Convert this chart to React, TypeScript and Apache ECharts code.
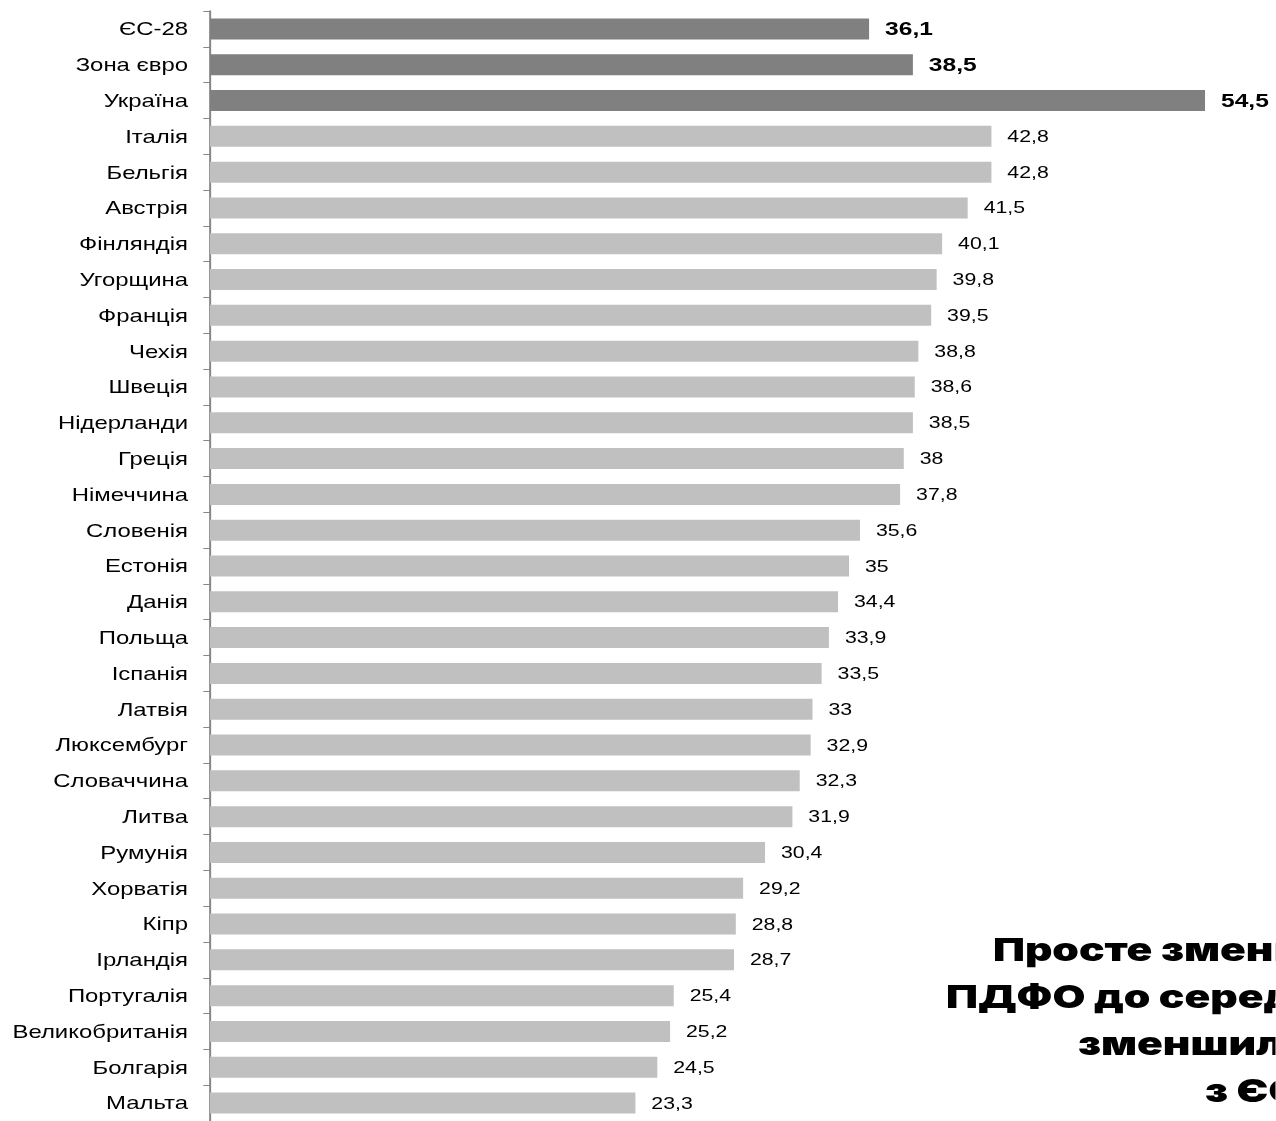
import React, { useEffect, useRef } from "react";
import * as echarts from "echarts";

const categories = [
  "ЄС-28", "Зона євро", "Україна", "Італія", "Бельгія", "Австрія", "Фінляндія",
  "Угорщина", "Франція", "Чехія", "Швеція", "Нідерланди", "Греція", "Німеччина",
  "Словенія", "Естонія", "Данія", "Польща", "Іспанія", "Латвія", "Люксембург",
  "Словаччина", "Литва", "Румунія", "Хорватія", "Кіпр", "Ірландія", "Португалія",
  "Великобританія", "Болгарія", "Мальта",
];
const values = [
  36.1, 38.5, 54.5, 42.8, 42.8, 41.5, 40.1, 39.8, 39.5, 38.8, 38.6, 38.5, 38,
  37.8, 35.6, 35, 34.4, 33.9, 33.5, 33, 32.9, 32.3, 31.9, 30.4, 29.2, 28.8,
  28.7, 25.4, 25.2, 24.5, 23.3,
];
const highlighted = ["ЄС-28", "Зона євро", "Україна"];
const noteLines = ["Просте зменшення", "ПДФО до середнього", "зменшило б розрив", "з ЄС"];

// The reference is stretched horizontally; draw narrow and stretch the whole chart.
const STRETCH = 1.33;
const W = 1276 / STRETCH;
const noteX = [993, 946, 1078, 1205].map((x) => x / STRETCH);

export default function App() {
  const ref = useRef<HTMLDivElement>(null);
  useEffect(() => {
    if (!ref.current) return;
    const chart = echarts.init(ref.current, null, { renderer: "svg" });
    const font = "Arial, 'Liberation Sans', sans-serif";
    const data = values.map((v, i) => {
      const hi = highlighted.includes(categories[i]);
      return {
        value: v,
        itemStyle: { color: hi ? "#808080" : "#c0c0c0" },
        label: hi
          ? { fontWeight: "bold", fontSize: 18.5, color: "#000" }
          : { fontWeight: "normal", fontSize: 16, color: "#000" },
      };
    });
    chart.setOption({
      animation: false,
      grid: { left: 210 / STRETCH, top: 11, width: 755, height: 1116, containLabel: false },
      xAxis: {
        type: "value",
        min: 0,
        max: 55,
        show: false,
      },
      yAxis: {
        type: "category",
        data: categories,
        inverse: true,
        axisLine: { show: true, lineStyle: { color: "#868686", width: 1.5 } },
        axisTick: { show: true, length: 5, lineStyle: { color: "#868686" } },
        axisLabel: { fontSize: 18, color: "#000", fontFamily: font, margin: 16.5 },
      },
      series: [
        {
          type: "bar",
          data,
          barWidth: 21,
          label: {
            show: true,
            position: "right",
            distance: 12,
            fontFamily: font,
            formatter: (p: any) => String(p.value).replace(".", ","),
          },
        },
      ],
      graphic: noteLines.map((t, i) => ({
        type: "text",
        left: noteX[i],
        top: 934 + i * 47,
        style: {
          text: t,
          fill: "#000",
          font: "900 32px 'Arial Black', Inter, 'DejaVu Sans', sans-serif",
        },
      })),
    });
    return () => chart.dispose();
  }, []);
  return (
    <div
      ref={ref}
      style={{
        position: "fixed",
        left: 0,
        top: 0,
        width: W,
        height: 1121,
        transform: `scaleX(${STRETCH})`,
        transformOrigin: "0 0",
      }}
    />
  );
}
